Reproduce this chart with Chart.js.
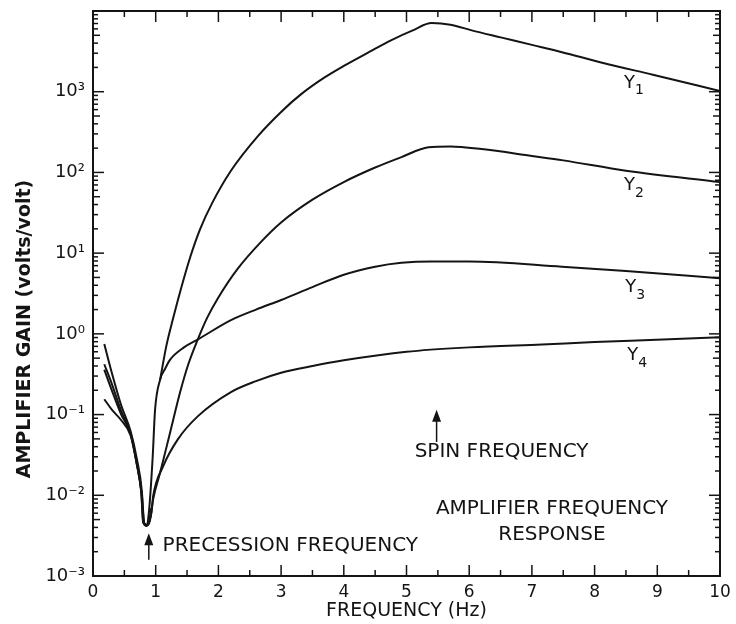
<!DOCTYPE html>
<html>
<head>
<meta charset="utf-8">
<script src="https://cdn.jsdelivr.net/npm/chart.js@4.4.1/dist/chart.umd.min.js"></script>
<style>
  html,body{margin:0;padding:0;background:#fff;}
  #wrap{width:736px;height:624px;}
</style>
</head>
<body>
<div id="wrap"><canvas id="c" width="736" height="624"></canvas></div>
<script>
// ---- data ----
const xTicks = [0,1,2,3,4,5,6,7,8,9,10];
const yTicks = [1e-3,1e-2,1e-1,1e0,1e1,1e2,1e3];
const yTickLabels = ['10\u207B\u00B3','10\u207B\u00B2','10\u207B\u00B9','10\u2070','10\u00B9','10\u00B2','10\u00B3'];

const y1Freq = [0.18,0.3,0.45,0.6,0.7,0.78,0.81,0.85,0.89,0.93, 1.0,
                1.07,1.17,1.28,1.4,1.55,1.71,1.9,2.2,2.63,3.0,3.32,3.7,4.0,4.4,4.76,5.1,5.4,5.7,6.04,6.52,7.0,7.48,8.12,8.93,10];
const y1Gain = [0.75,0.33,0.13,0.062,0.028,0.011,0.0046,0.0042,0.0045,0.007, null,
                0.27,0.71,1.58,3.55,8.9,20,41.7,105,282,562,933,1514,2089,3090,4365,5754,7079,6761,5754,4677,3802,3090,2291,1622,1023];

const y2Freq = [0.18,0.3,0.45,0.6,0.7,0.77,0.8,0.86,0.92,0.96,1.07,1.23,1.39,1.52,1.67,1.82,1.99,2.3,2.68,3.0,3.5,4.0,4.5,4.92,5.35,5.7,6.2,7.0,7.5,8.5,10];
const y2Gain = [0.42,0.24,0.11,0.058,0.024,0.011,0.0046,0.0042,0.0055,0.009,0.019,0.06,0.19,0.42,0.85,1.58,2.75,6.3,13.8,24,46,76,115,155,205,210,195,160,141,105,76];

const y3Freq = [0.18,0.3,0.45,0.6,0.7,0.77,0.8,0.85,0.89,0.95,0.99,1.07,1.15,1.23,1.45,1.67,2.2,2.6,3.0,3.5,4.0,4.5,4.92,5.4,6.0,7.48,8.5,10];
const y3Gain = [0.36,0.2,0.1,0.058,0.025,0.011,0.0048,0.0042,0.006,0.028,0.115,0.27,0.37,0.48,0.68,0.85,1.48,2.0,2.63,3.8,5.4,6.8,7.6,7.9,7.9,6.8,6.0,4.9];

const y4Freq = [0.18,0.3,0.45,0.6,0.7,0.78,0.82,0.88,0.93,0.96,1.12,1.35,1.67,2.2,2.6,3.0,3.5,4.0,5.0,6.0,7.16,8.0,9.09,10];
const y4Gain = [0.155,0.115,0.085,0.055,0.024,0.01,0.0045,0.0043,0.006,0.0098,0.023,0.049,0.095,0.19,0.26,0.33,0.4,0.47,0.6,0.68,0.74,0.79,0.85,0.91];

const seriesNames = ['Y1','Y2','Y3','Y4'];
const seriesFreq = [y1Freq,y2Freq,y3Freq,y4Freq];
const seriesGain = [y1Gain,y2Gain,y3Gain,y4Gain];

// ---- chart ----
const INK = '#141414';
const FONT = '"DejaVu Sans", sans-serif';

const datasets = seriesNames.map((n,k)=>({
  label:n,
  data: seriesFreq[k].map((f,i)=>({x:f,y:seriesGain[k][i]})),
  borderColor:INK, borderWidth:2, pointRadius:0, fill:false,
  cubicInterpolationMode:'monotone', spanGaps:false
}));

function line(ctx,x1,y1,x2,y2){ctx.beginPath();ctx.moveTo(x1,y1);ctx.lineTo(x2,y2);ctx.stroke();}
function arrow(ctx,x,yTip,yEnd){
  line(ctx,x,yTip+6,x,yEnd);
  ctx.beginPath();ctx.moveTo(x,yTip);ctx.lineTo(x-4.5,yTip+12);ctx.lineTo(x+4.5,yTip+12);ctx.closePath();ctx.fill();
}

const decor = {
  id:'decor',
  beforeDraw(chart){
    const {ctx}=chart; ctx.save(); ctx.fillStyle='#fff'; ctx.fillRect(0,0,chart.width,chart.height); ctx.restore();
  },
  afterDraw(chart){
    const {ctx, scales:{x,y}, chartArea:a} = chart;
    ctx.save();
    ctx.strokeStyle=INK; ctx.fillStyle=INK;
    // frame
    ctx.lineWidth=2; ctx.strokeRect(a.left,a.top,a.right-a.left,a.bottom-a.top); ctx.lineWidth=1.5;
    // x ticks (inward, bottom and top)
    for(let v=0; v<=10; v+=0.5){
      const px=x.getPixelForValue(v); const L=Number.isInteger(v)?11:6;
      line(ctx,px,a.bottom,px,a.bottom-L);
      line(ctx,px,a.top,px,a.top+L);
    }
    // y ticks (inward, left and right)
    for(let e=-3;e<4;e++){
      for(let m=1;m<10;m++){
        const v=m*Math.pow(10,e); const py=y.getPixelForValue(v);
        const L = m===1?11:(m===5?7:5);
        line(ctx,a.left,py,a.left+L,py);
        line(ctx,a.right,py,a.right-L,py);
      }
    }
    // annotation texts
    ctx.textBaseline='middle';
    const P=(f,g)=>[x.getPixelForValue(f), y.getPixelForValue(g)];
    ctx.font='20px '+FONT; ctx.textAlign='left';
    let p=P(5.13,Math.pow(10,-1.46)); ctx.fillText('SPIN FREQUENCY',p[0],p[1]);
    p=P(1.11,Math.pow(10,-2.63)); ctx.fillText('PRECESSION FREQUENCY',p[0],p[1]);
    ctx.textAlign='center';
    p=P(7.32,Math.pow(10,-2.17)); ctx.fillText('AMPLIFIER FREQUENCY',p[0],p[1]);
    p=P(7.32,Math.pow(10,-2.49)); ctx.fillText('RESPONSE',p[0],p[1]);
    // arrows
    let t=P(5.48,Math.pow(10,-0.94)), b=P(5.48,Math.pow(10,-1.34)); arrow(ctx,t[0],t[1],b[1]);
    t=P(0.89,Math.pow(10,-2.47)); b=P(0.89,Math.pow(10,-2.80)); arrow(ctx,t[0],t[1],b[1]);
    // series labels
    const labPos=[[8.47,3.11],[8.47,1.84],[8.49,0.58],[8.52,-0.27]];
    ctx.textAlign='left';
    labPos.forEach((q,k)=>{
      const pp=P(q[0],Math.pow(10,q[1]));
      ctx.font='18px '+FONT; ctx.fillText('Y',pp[0],pp[1]);
      const w=ctx.measureText('Y').width;
      ctx.font='14px '+FONT; ctx.fillText(String(k+1),pp[0]+w,pp[1]+8);
    });
    // y axis title
    ctx.save();
    ctx.translate(25,329); ctx.rotate(-Math.PI/2);
    ctx.font='bold 19px '+FONT; ctx.textAlign='center';
    ctx.fillText('AMPLIFIER GAIN (volts/volt)',0,0);
    ctx.restore();
    ctx.restore();
  }
};

function zeroPad(s){s.paddingTop=0;s.paddingBottom=0;s.paddingLeft=0;s.paddingRight=0;}

new Chart(document.getElementById('c'),{
  type:'line',
  data:{datasets},
  plugins:[decor],
  options:{
    responsive:false, animation:false,
    layout:{padding:{top:11,right:16,left:0,bottom:0}},
    plugins:{legend:{display:false},tooltip:{enabled:false}},
    scales:{
      x:{type:'linear',min:0,max:10,
        afterBuildTicks:s=>{s.ticks=xTicks.map(v=>({value:v}));},
        afterFit:s=>{s.height=48;zeroPad(s);},
        grid:{display:false,drawTicks:false,tickLength:0},
        border:{display:false},
        ticks:{color:INK,font:{family:FONT,size:17},padding:6,maxRotation:0,autoSkip:false},
        title:{display:true,text:'FREQUENCY (Hz)',color:INK,font:{family:FONT,size:19},padding:{top:0,bottom:2}}
      },
      y:{type:'logarithmic',min:1e-3,max:1e4,
        afterBuildTicks:s=>{s.ticks=yTicks.map(v=>({value:v}));},
        afterFit:s=>{s.width=93;zeroPad(s);},
        grid:{display:false,drawTicks:false,tickLength:0},
        border:{display:false},
        ticks:{color:INK,font:{family:FONT,size:18},padding:8,autoSkip:false,
          callback:(v)=>{const i=yTicks.findIndex(t=>Math.abs(Math.log10(t)-Math.log10(v))<1e-6);return i>=0?yTickLabels[i]:'';}}
      }
    }
  }
});
</script>
</body>
</html>
